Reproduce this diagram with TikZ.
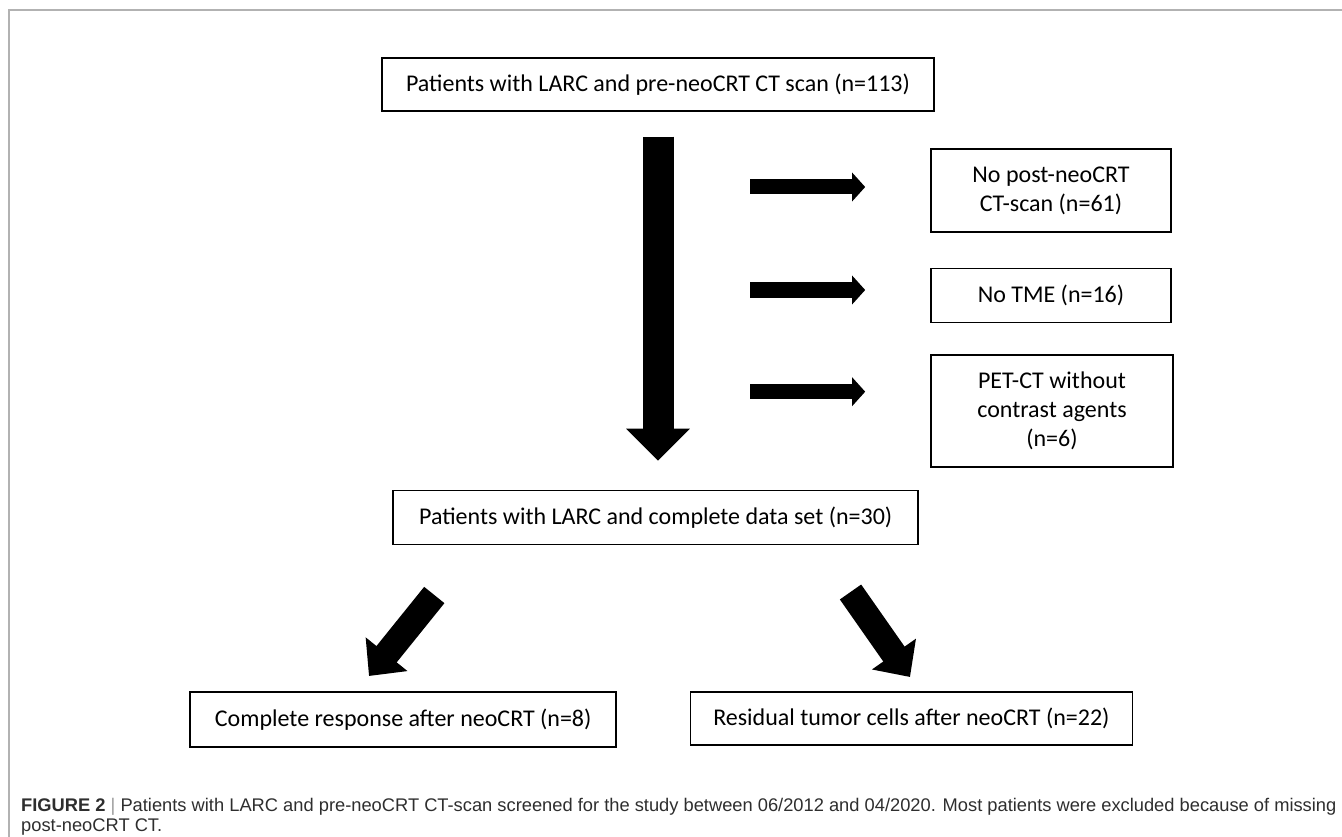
\documentclass[tikz,border=0pt]{standalone}
\usepackage{fontspec}
\setmainfont{Carlito}
\newfontfamily\capfont{Liberation Sans}
\usetikzlibrary{arrows.meta}

\tikzset{
	box/.style={draw, line width=1.6pt, align=center, inner sep=0pt,
		font=\fontsize{24}{29}\selectfont},
	fatarrow/.style={line width=31pt, -{Triangle[length=32pt, width=62pt]}},
	midarrow/.style={line width=26pt, -{Triangle[length=28pt, width=52pt]}},
	thinarrow/.style={line width=15pt, -{Triangle[length=13pt, width=28pt]}},
	caption/.style={anchor=west, inner sep=0pt, text=black!82,
		font=\capfont\fontsize{18.3}{21}\selectfont}
}

\begin{document}
\begin{tikzpicture}[x=1pt, y=-1pt]
	\useasboundingbox (0,0) rectangle (1342,837);
	\draw[line width=1.5pt, black!30]
		(1342,10)--(9,10)--(9,837);

	\node[box, minimum width=552pt, minimum height=53pt] (screened) at (658,84.3)
		{Patients with LARC and pre-neoCRT CT scan (n=113)};
	\node[box, minimum width=240pt, minimum height=83pt] (noscan) at (1051,190.8)
		{No post-neoCRT\\CT-scan (n=61)};
	\node[box, minimum width=240pt, minimum height=54pt] (notme) at (1051,295.5)
		{No TME (n=16)};
	\node[box, minimum width=242pt, minimum height=112pt] (petct) at (1052,410.8)
		{PET-CT without\\contrast agents\\(n=6)};
	\node[box, minimum width=525pt, minimum height=54pt] (dataset) at (655.7,517.5)
		{Patients with LARC and complete data set (n=30)};
	\node[box, minimum width=426pt, minimum height=55pt] (complete) at (403.2,719.2)
		{Complete response after neoCRT (n=8)};
	\node[box, minimum width=442pt, minimum height=53pt] (residual) at (911.4,718.2)
		{Residual tumor cells after neoCRT (n=22)};

	\coordinate (e1) at (750,187);
	\coordinate (e2) at (750,290);
	\coordinate (e3) at (750,391.7);
	\coordinate (ltail) at (434.3,595);
	\coordinate (ltip) at (369,676);
	\coordinate (rtail) at (850.5,592);
	\coordinate (rtip) at (910,677);

	\draw[fatarrow, shorten <=25pt, shorten >=29pt]
		(screened.south) -- (screened.south |- dataset.north);
	\draw[thinarrow, shorten >=65pt] (e1) -- (e1 -| noscan.west);
	\draw[thinarrow, shorten >=65pt] (e2) -- (e2 -| notme.west);
	\draw[thinarrow, shorten >=65pt] (e3) -- (e3 -| petct.west);
	\draw[midarrow] (ltail) -- (ltip);
	\draw[midarrow] (rtail) -- (rtip);

	\node[caption] (cap1) at (21,806.7)
		{\textbf{FIGURE 2} \textcolor{black!40}{|} Patients with LARC and pre-neoCRT CT-scan screened for the study between 06/2012 and 04/2020. Most patients were excluded because of missing};
	\node[caption] (cap2) at (21,826.7) {post-neoCRT CT.};
\end{tikzpicture}
\end{document}
